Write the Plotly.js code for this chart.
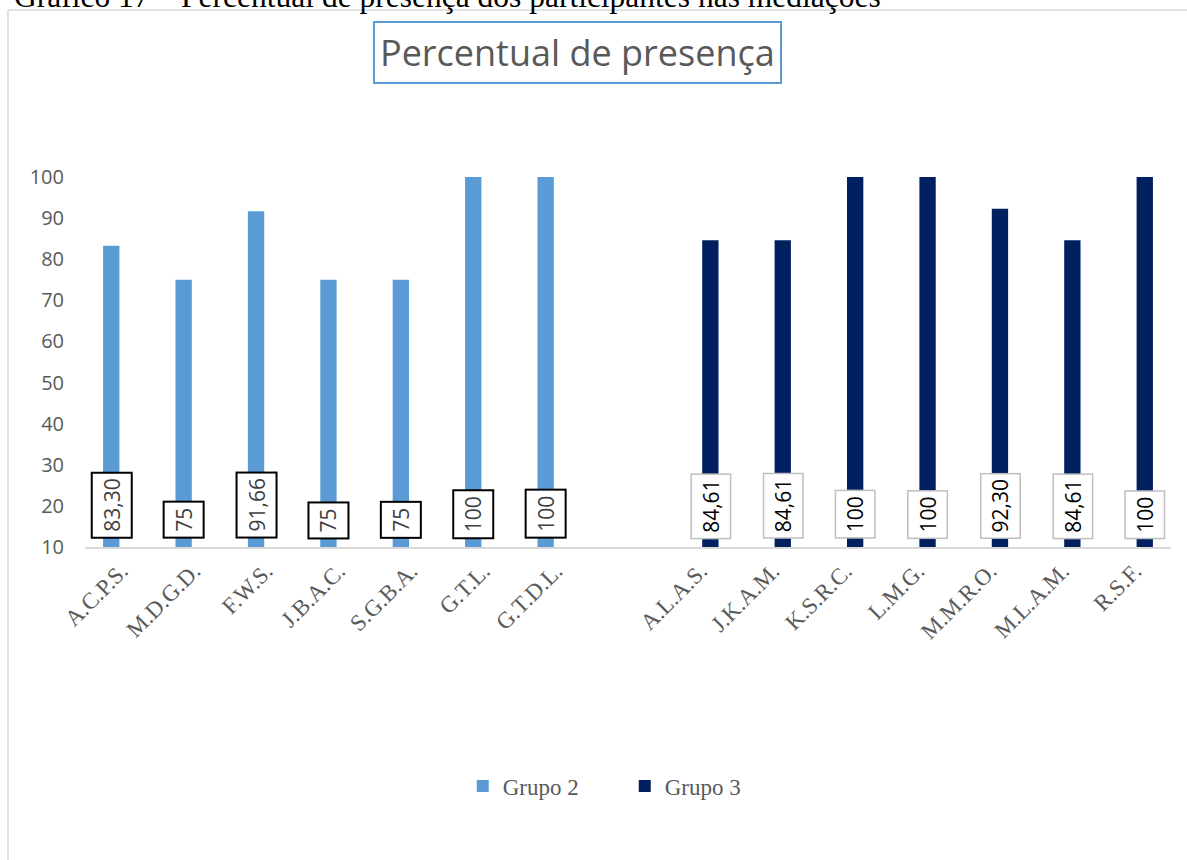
<!DOCTYPE html>
<html>
<head>
<meta charset="utf-8">
<script src="https://cdn.plot.ly/plotly-3.0.1.min.js"></script>
<style>
  html, body { margin: 0; padding: 0; background: #ffffff; overflow: hidden; }
  #chart { width: 1187px; height: 860px; }
</style>
</head>
<body>
<div id="chart"></div>
<script>
// ---- data ----
const catsGrupo2 = ['A.C.P.S.', 'M.D.G.D.', 'F.W.S.', 'J.B.A.C.', 'S.G.B.A.', 'G.T.L.', 'G.T.D.L.'];
const catsGrupo3 = ['A.L.A.S.', 'J.K.A.M.', 'K.S.R.C.', 'L.M.G.', 'M.M.R.O.', 'M.L.A.M.', 'R.S.F.'];
const valsGrupo2 = [83.30, 75, 91.66, 75, 75, 100, 100];
const valsGrupo3 = [84.61, 84.61, 100, 100, 92.30, 84.61, 100];
const labelsGrupo2 = ['83,30', '75', '91,66', '75', '75', '100', '100'];
const labelsGrupo3 = ['84,61', '84,61', '100', '100', '92,30', '84,61', '100'];
const seriesNames = ['Grupo 2', 'Grupo 3'];
const yTicks = [10, 20, 30, 40, 50, 60, 70, 80, 90, 100];
const chartTitle = 'Percentual de presença';
const captionText = 'Gráfico 17 – Percentual de presença dos participantes nas mediações';

// ---- build ----
const spacer = ' ';
const categories = catsGrupo2.concat([spacer], catsGrupo3);
const n2 = catsGrupo2.length;
const yGrupo2 = valsGrupo2.concat(new Array(categories.length - n2).fill(null));
const yGrupo3 = new Array(n2 + 1).fill(null).concat(valsGrupo3);

const BARGAP = 0.45;
const BARGROUPGAP = 0.18;
const slotOffset = (1 - BARGAP) / 4; // centre offset of each bar in category units

const colG2 = '#5b9bd5';
const colG3 = '#002060';
const textGray = '#595959';
const sansFont = 'Open Sans, Liberation Sans, sans-serif';
const serifFont = 'Liberation Serif, Times New Roman, serif';

const traces = [
  { type: 'bar', name: seriesNames[0], x: categories, y: yGrupo2, marker: { color: colG2 }, hoverinfo: 'x+y' },
  { type: 'bar', name: seriesNames[1], x: categories, y: yGrupo3, marker: { color: colG3 }, hoverinfo: 'x+y' }
];

const annotations = [];
labelsGrupo2.forEach((t, i) => {
  annotations.push({
    xref: 'x', yref: 'y', x: i - slotOffset, y: yTicks[0],
    text: t, textangle: -90, showarrow: false,
    xanchor: 'center', yanchor: 'bottom', yshift: 8,
    font: { family: sansFont, size: 21, color: '#404040' },
    bgcolor: '#ffffff', bordercolor: '#000000', borderwidth: 2, borderpad: 5
  });
});
labelsGrupo3.forEach((t, i) => {
  annotations.push({
    xref: 'x', yref: 'y', x: n2 + 1 + i + slotOffset, y: yTicks[0],
    text: t, textangle: -90, showarrow: false,
    xanchor: 'center', yanchor: 'bottom', yshift: 8,
    font: { family: sansFont, size: 21, color: '#000000' },
    bgcolor: '#ffffff', bordercolor: '#bfbfbf', borderwidth: 1.5, borderpad: 5
  });
});
// chart title in a bordered box
annotations.push({
  xref: 'paper', yref: 'paper', x: 0.4535, y: 1.3365,
  xanchor: 'center', yanchor: 'middle', showarrow: false,
  text: chartTitle,
  font: { family: sansFont, size: 36, color: textGray },
  bordercolor: '#5b9bd5', borderwidth: 2, borderpad: 5, bgcolor: '#ffffff'
});
// document caption, cut off at the top of the page as in the reference
annotations.push({
  xref: 'paper', yref: 'paper', x: -0.0672, y: 1.489,
  xanchor: 'left', yanchor: 'middle', showarrow: false,
  text: captionText,
  font: { family: serifFont, size: 31.5, color: '#000000' }
});

const layout = {
  width: 1187, height: 860,
  margin: { l: 85, r: 16, t: 177, b: 313 },
  paper_bgcolor: '#ffffff', plot_bgcolor: '#ffffff',
  barmode: 'group', bargap: BARGAP, bargroupgap: BARGROUPGAP,
  showlegend: true,
  legend: {
    orientation: 'h', x: 0.497, xanchor: 'center', y: -0.646, yanchor: 'middle',
    font: { family: serifFont, size: 23, color: textGray },
    entrywidth: 117, itemwidth: 30, traceorder: 'normal'
  },
  xaxis: {
    type: 'category', categoryorder: 'array', categoryarray: categories,
    showline: true, linecolor: '#d9d9d9', linewidth: 1.5,
    showgrid: false, zeroline: false, ticks: '',
    tickangle: -45,
    tickfont: { family: serifFont, size: 23, color: textGray },
    fixedrange: true
  },
  yaxis: {
    range: [yTicks[0], yTicks[yTicks.length - 1]],
    tickmode: 'array', tickvals: yTicks, ticktext: yTicks.map(String),
    showline: false, showgrid: false, zeroline: false, ticks: '',
    ticklabelstandoff: 20,
    tickfont: { family: sansFont, size: 20, color: textGray },
    fixedrange: true
  },
  annotations: annotations,
  shapes: [
    { type: 'line', xref: 'paper', yref: 'paper', x0: -0.0709, x1: -0.0709, y0: 1.4514, y1: -0.9,
      line: { color: '#d9d9d9', width: 1.5 } },
    { type: 'line', xref: 'paper', yref: 'paper', x0: -0.0709, x1: 1.03, y0: 1.4514, y1: 1.4514,
      line: { color: '#d9d9d9', width: 1.5 } }
  ]
};

Plotly.newPlot('chart', traces, layout, { displayModeBar: false, staticPlot: true });
</script>
</body>
</html>
